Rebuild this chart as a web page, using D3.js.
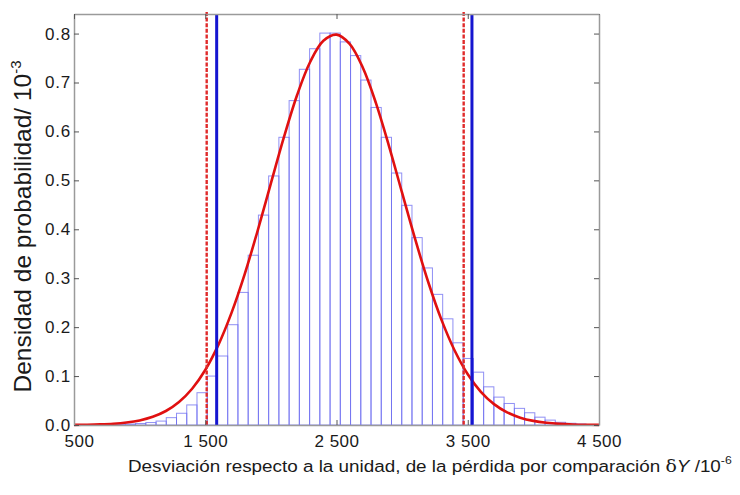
<!DOCTYPE html>
<html>
<head>
<meta charset="utf-8">
<script src="https://cdn.jsdelivr.net/npm/d3@7"></script>
<style>
  html, body { margin: 0; padding: 0; background: #ffffff; }
  svg { display: block; }
  text { font-family: "Liberation Sans", Arial, Helvetica, sans-serif; fill: #1a1a1a; }
</style>
</head>
<body>
<svg id="chart" width="740" height="495"></svg>
<script>
// ---------------- data ----------------
// histogram bin left edges (units of 10^-6) and heights (10^-3)
const binEdges = [813, 891, 969, 1047, 1125, 1203, 1281, 1359, 1437, 1515, 1593, 1671, 1749, 1827,
  1905, 1983, 2061, 2139, 2217, 2295, 2373, 2451, 2529, 2607, 2685, 2763, 2841, 2919, 2997, 3075,
  3153, 3231, 3309, 3387, 3465, 3543, 3621, 3699, 3777, 3855, 3933, 4011, 4089, 4167, 4245, 4323, 4401];
const binDensity = [0.001, 0.002, 0.003, 0.005, 0.008, 0.015, 0.024, 0.041, 0.066, 0.100, 0.141, 0.205,
  0.271, 0.347, 0.429, 0.509, 0.588, 0.663, 0.727, 0.769, 0.801, 0.801, 0.783, 0.755, 0.705, 0.649,
  0.588, 0.515, 0.449, 0.383, 0.321, 0.267, 0.217, 0.168, 0.136, 0.108, 0.078, 0.057, 0.044, 0.034,
  0.025, 0.016, 0.010, 0.0055, 0.0035, 0.002];

// fitted density curve
const curveX = [500, 600, 700, 800, 900, 1000, 1100, 1200, 1300, 1400, 1500, 1600, 1700, 1800, 1900,
  2000, 2100, 2200, 2300, 2400, 2500, 2600, 2700, 2800, 2900, 3000, 3100, 3200, 3300, 3400, 3500,
  3600, 3700, 3800, 3900, 4000, 4100, 4200, 4300, 4400, 4500];
const curveY = [0.0003, 0.0006, 0.0013, 0.0026, 0.0051, 0.0094, 0.0168, 0.0286, 0.0470, 0.0741,
  0.1124, 0.1637, 0.2291, 0.3079, 0.3978, 0.4937, 0.5887, 0.6745, 0.7424, 0.7852, 0.7978, 0.7789,
  0.7306, 0.6585, 0.5701, 0.4743, 0.3792, 0.2912, 0.2148, 0.1523, 0.1038, 0.0679, 0.0427, 0.0258,
  0.0150, 0.0084, 0.0045, 0.0023, 0.0011, 0.0005, 0.0003];

// interval limits
const redLimits = [1511, 3469];
const blueLimits = [1587, 3532];

// axes
const xTickValues = [500, 1500, 2500, 3500, 4500];
const xTickLabels = ["500", "1 500", "2 500", "3 500", "4 500"];
const yTickValues = [0, 0.1, 0.2, 0.3, 0.4, 0.5, 0.6, 0.7, 0.8];
const yTickLabels = ["0.0", "0.1", "0.2", "0.3", "0.4", "0.5", "0.6", "0.7", "0.8"];
const binWidth = 78;

// ---------------- layout ----------------
const margin = { left: 74, top: 14, right: 141, bottom: 70 };
const W = 740, H = 495;
const iw = W - margin.left - margin.right;
const ih = H - margin.top - margin.bottom;

const svg = d3.select("#chart");
const g = svg.append("g").attr("transform", `translate(${margin.left},${margin.top})`);

const x = d3.scaleLinear().domain([500, 4500]).range([0, iw]);
const y = d3.scaleLinear().domain([0, 0.84]).range([ih, 0]);

// bars
const bins = binEdges.slice(0, binDensity.length).map((e, i) => ({ x0: e, x1: e + binWidth, v: binDensity[i] }));
g.append("g").selectAll("rect").data(bins).join("rect")
  .attr("x", d => x(d.x0))
  .attr("y", d => y(d.v))
  .attr("width", d => x(d.x1) - x(d.x0))
  .attr("height", d => y(0) - y(d.v))
  .attr("fill", "none")
  .attr("stroke", "#6b6bf0")
  .attr("stroke-opacity", 0.75)
  .attr("stroke-width", 1);

// curve
const pts = curveX.map((v, i) => [v, curveY[i]]);
g.append("path").datum(pts)
  .attr("fill", "none")
  .attr("stroke", "#e01010")
  .attr("stroke-width", 2.6)
  .attr("d", d3.line().x(d => x(d[0])).y(d => y(d[1])).curve(d3.curveCatmullRom));

// vertical limit lines
g.append("g").selectAll("line").data(redLimits).join("line")
  .attr("x1", d => x(d)).attr("x2", d => x(d))
  .attr("y1", -2).attr("y2", ih)
  .attr("stroke", "#e02a2a").attr("stroke-width", 2.4)
  .attr("stroke-dasharray", "4,1.6");
g.append("g").selectAll("line").data(blueLimits).join("line")
  .attr("x1", d => x(d)).attr("x2", d => x(d))
  .attr("y1", 0).attr("y2", ih)
  .attr("stroke", "#1515d0").attr("stroke-width", 3);

// axes
const axisColor = "#9a9a9a";
function styleAxis(sel) {
  sel.select(".domain").attr("stroke", axisColor).attr("stroke-width", 1.5);
  sel.selectAll(".tick line").attr("stroke", "#555").attr("stroke-width", 1);
  sel.selectAll(".tick text").style("font-size", "17px").attr("fill", "#1a1a1a")
    .style("font-family", '"Liberation Sans", Arial, sans-serif');
}

const xAxis = g.append("g").attr("transform", `translate(0,${ih})`)
  .call(d3.axisBottom(x).tickValues(xTickValues)
    .tickFormat((d, i) => xTickLabels[i]).tickSizeInner(-5).tickSizeOuter(0).tickPadding(9.6));
styleAxis(xAxis);
xAxis.selectAll(".tick text").style("letter-spacing", "0.5px");
xAxis.selectAll(".tick text").filter((d, i) => i === 0).attr("dx", 5);

const yAxis = g.append("g")
  .call(d3.axisLeft(y).tickValues(yTickValues)
    .tickFormat((d, i) => yTickLabels[i]).tickSizeInner(-5).tickSizeOuter(0).tickPadding(3));
styleAxis(yAxis);
yAxis.selectAll(".tick text").style("letter-spacing", "0.8px");

const topAxis = g.append("g")
  .call(d3.axisTop(x).tickValues(xTickValues).tickFormat("").tickSizeInner(-5).tickSizeOuter(0));
styleAxis(topAxis);

const rightAxis = g.append("g").attr("transform", `translate(${iw},0)`)
  .call(d3.axisRight(y).tickValues(yTickValues).tickFormat("").tickSizeInner(-5).tickSizeOuter(0));
styleAxis(rightAxis);

// titles
const yt = svg.append("text")
  .attr("transform", `translate(31,${margin.top + ih / 2 + 7}) rotate(-90)`)
  .attr("text-anchor", "middle")
  .style("font-size", "24.5px");
yt.append("tspan").text("Densidad de probabilidad/ 10");
yt.append("tspan").attr("dy", -10).style("font-size", "15px").text("-3");

const xt = svg.append("text")
  .attr("transform", "translate(128,472) scale(1.11,1)")
  .attr("text-anchor", "start")
  .style("font-size", "17px");
xt.append("tspan").text("Desviación respecto a la unidad, de la pérdida por comparación ");
xt.append("tspan").style("font-family", '"DejaVu Serif", serif').text("δ");
xt.append("tspan").style("font-style", "italic").text("Y");
xt.append("tspan").text(" /10");
xt.append("tspan").attr("dy", -8).style("font-size", "11px").text("-6");
</script>
</body>
</html>
